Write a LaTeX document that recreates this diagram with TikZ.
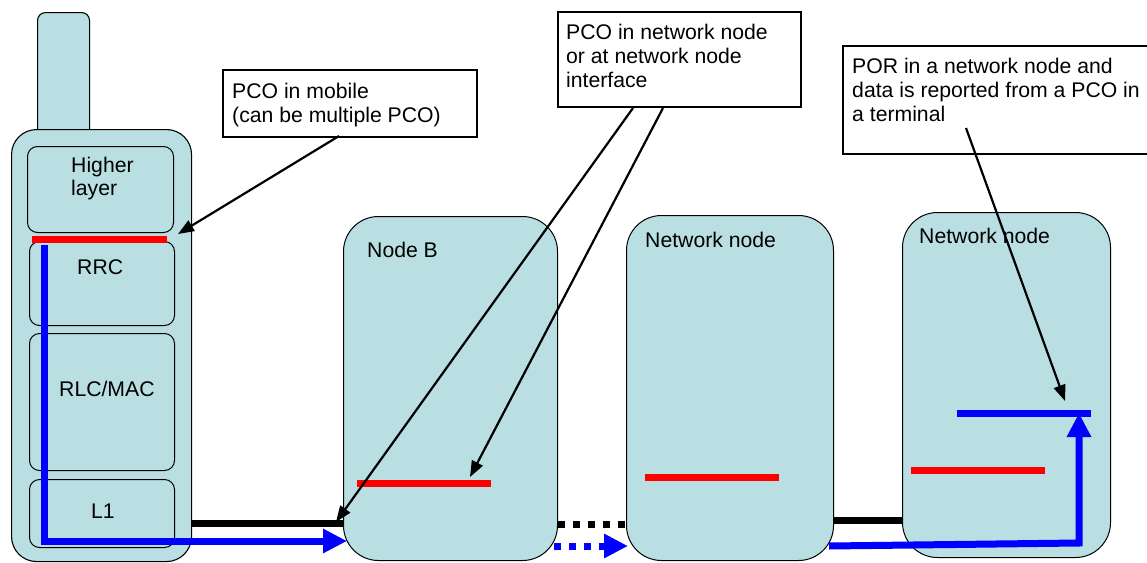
\documentclass[tikz,border=0pt]{standalone}
\usepackage{fontspec}
\setmainfont{Liberation Sans}
\usetikzlibrary{arrows.meta}
\definecolor{boxfill}{RGB}{185,223,227}
\begin{document}
\begin{tikzpicture}[x=1pt, y=-1pt,
  font=\fontsize{21.2pt}{24pt}\selectfont,
  body/.style={draw=black, line width=1.1pt, fill=boxfill, rounded corners=25pt, inner sep=0pt, anchor=north west},
  layerbox/.style={draw=black, line width=1pt, fill=boxfill, rounded corners=10pt, inner sep=0pt, anchor=north west, minimum width=145pt},
  netbox/.style={draw=black, line width=1pt, fill=boxfill, rounded corners=35pt, inner sep=0pt, anchor=north west},
  callout/.style={draw=black, line width=1.5pt, fill=white, inner sep=0pt, anchor=north west},
  lbl/.style={anchor=base west, inner sep=0pt},
  txt/.style={anchor=north west, inner sep=0pt, align=left},
  pco/.style={red, line width=7pt},
  flow/.style={blue, line width=7pt},
  link/.style={black, line width=7pt},
  ptr/.style={black, line width=2.2pt, -{Triangle[length=16pt,width=12pt]}},
  bigtip/.style={-{Triangle[length=24pt,width=23pt]}},
  ticks/.style={gray!35, line width=0.8pt}
]
\useasboundingbox (0,0) rectangle (1147,562);

% mobile
\node[body, rounded corners=8pt, minimum width=52pt, minimum height=130pt] (antenna) at (37,12) {};
\node[body, minimum width=180pt, minimum height=432pt] (mobile) at (11,129) {};
\foreach \x in {37,63,88,114,139,166} \draw[ticks] (\x,324) -- (\x,334);
\foreach \x/\y in {37/63,88/114,139/166} \draw[ticks, rounded corners=2pt] (\x,464) -- (\x,473) -- (\y,473) -- (\y,464);
\node[layerbox, minimum width=146pt, minimum height=86pt] (higher) at (27,146) {};
\node[layerbox, minimum height=84pt] (rrc) at (29,241) {};
\node[layerbox, minimum height=137pt] (rlc) at (29,333) {};
\node[layerbox, minimum height=68pt] (l1) at (29,479) {};
\node[txt, font=\fontsize{21.2pt}{23pt}\selectfont] (thigher) at (71,157) {Higher\\layer};
\node[lbl] (trrc) at (77,274) {RRC};
\node[lbl] (trlc) at (59,396) {RLC/MAC};
\node[lbl] (tl1) at (91,518) {L1};

% network nodes
\node[netbox, minimum width=214pt, minimum height=344pt] (nodeB) at (343,216) {};
\node[netbox, minimum width=207pt, minimum height=345pt] (net1) at (626,215) {};
\node[netbox, minimum width=208pt, minimum height=345pt] (net2) at (902,212) {};
\node[lbl] (tnodeB) at (367,257) {Node B};
\node[lbl] (tnet1) at (645,247) {Network node};
\node[lbl] (tnet2) at (919,243) {Network node};

% PCO / POR markers
\draw[pco] (32,239) -- (167,239);
\draw[pco] (357,483) -- (491,483);
\draw[pco] (645,477) -- (779,477);
\draw[pco] (911,470) -- (1045,470);
\draw[flow] (957,413) -- (1091,413);

% links
\draw[link] (mobile.east |- 0,523) -- (nodeB.west |- 0,523);
\draw[link, dash pattern=on 7pt off 8pt] (nodeB.east |- 0,524) -- (net1.west |- 0,524);
\draw[link] (net1.east |- 0,520) -- (net2.west |- 0,520);

% data flow
\coordinate (fstart) at (44.5,245);
\coordinate (fcorner) at (44.5,541);
\draw[flow, bigtip] (fstart) -- (fcorner) -- ([xshift=4pt]nodeB.west |- 0,541);
\draw[flow, bigtip, dash pattern=on 7pt off 8pt] ([xshift=-4pt]nodeB.east |- 0,546) -- ([xshift=2pt]net1.west |- 0,546);
\coordinate (gstart) at (829,546);
\coordinate (gcorner) at (1079,543);
\coordinate (gend) at (1079,413);
\draw[flow, bigtip] (gstart) -- (gcorner) -- (gend);

% callouts
\node[callout, minimum width=254pt, minimum height=67pt] (c1) at (222,69) {};
\node[txt] (tc1) at (232,83) {PCO in mobile\\(can be multiple PCO)};
\node[callout, minimum width=243pt, minimum height=95pt] (c2) at (557,11) {};
\node[txt] (tc2) at (566,24) {PCO in network node\\or at network node\\interface};
\node[callout, minimum width=320pt, minimum height=108pt] (c3) at (842,45) {};
\node[txt] (tc3) at (852,58) {POR in a network node and\\data is reported from a PCO in\\a terminal};

% pointers
\coordinate (a1s) at (339,136);
\coordinate (a1e) at (178,234);
\coordinate (a2s) at (633,108);
\coordinate (a2e) at (336,522);
\coordinate (a3s) at (663,108);
\coordinate (a3e) at (470,477);
\coordinate (a4s) at (966,128);
\coordinate (a4e) at (1065,401);
\draw[ptr] (a1s) -- (a1e);
\draw[ptr] (a2s) -- (a2e);
\draw[ptr] (a3s) -- (a3e);
\draw[ptr] (a4s) -- (a4e);
\end{tikzpicture}
\end{document}
